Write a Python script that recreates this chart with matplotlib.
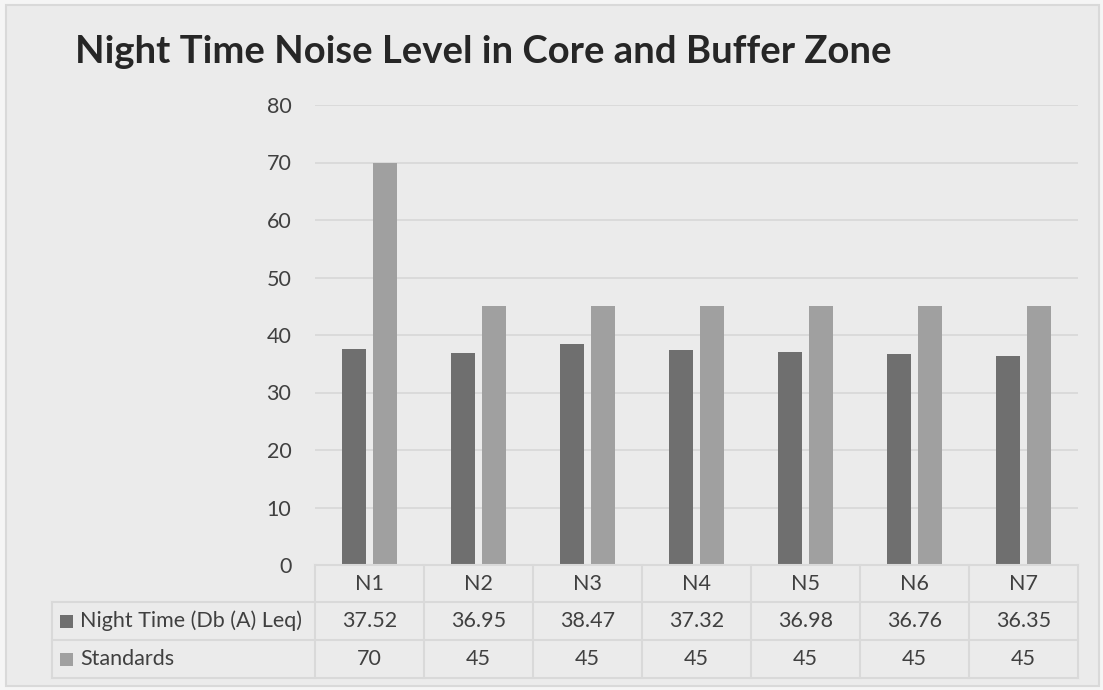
import matplotlib.pyplot as plt
from matplotlib.patches import Rectangle
from matplotlib.lines import Line2D
from matplotlib.transforms import blended_transform_factory
import numpy as np

sites = ["N1", "N2", "N3", "N4", "N5", "N6", "N7"]
night = [37.52, 36.95, 38.47, 37.32, 36.98, 36.76, 36.35]
standards = [70, 45, 45, 45, 45, 45, 45]
series_names = ["Night Time (Db (A) Leq)", "Standards"]
yticks = [0, 10, 20, 30, 40, 50, 60, 70, 80]

dark = "#6f6f6f"
light = "#a0a0a0"
grid_col = "#d9d9d9"
txt_col = "#404040"

W, H = 1103, 690
plt.rcParams["font.family"] = ["Lato", "DejaVu Sans"]
fig = plt.figure(figsize=(W / 100, H / 100), dpi=100, facecolor="#f5f5f5")


def fx(px):
    return px / W


def fy(py):
    return 1 - py / H


# chart area background with thin border
fig.patches.append(Rectangle((fx(6), fy(686)), fx(1099) - fx(6), fy(5) - fy(686),
                             transform=fig.transFigure, facecolor="#ebebeb",
                             edgecolor=grid_col, lw=1.5, zorder=-5))

fig.text(fx(483), fy(52), "Night Time Noise Level in Core and Buffer Zone",
         ha="center", va="center", fontsize=27.5, fontweight="bold", color="#262626")

ax = fig.add_axes([fx(315), fy(565), fx(1078) - fx(315), fy(105) - fy(565)])
ax.set_facecolor("none")
x = np.arange(len(sites))
bw = 0.22
off = 0.142
ax.bar(x - off, night, bw, color=dark, zorder=3)
ax.bar(x + off, standards, bw, color=light, zorder=3)
ax.set_xlim(-0.5, len(sites) - 0.5)
ax.set_ylim(0, 80)
ax.set_yticks(yticks)
ax.set_yticklabels([str(t) for t in yticks], fontsize=15.5, color=txt_col)
ax.tick_params(axis="y", length=0, pad=17)
ax.set_xticks([])
ax.grid(axis="y", color=grid_col, lw=1.3, zorder=0)
for s in ax.spines.values():
    s.set_visible(False)

# data table under the plot
tr = blended_transform_factory(ax.transAxes, fig.transFigure)
n = len(sites)
rows_y = [565, 602, 640, 678]
lw = 1.5
# horizontal lines
fig.add_artist(Line2D([0, 1], [fy(rows_y[0])] * 2, transform=tr, color=grid_col, lw=lw))
for ry in rows_y[1:]:
    fig.add_artist(Line2D([fx(52), fx(1078)], [fy(ry)] * 2, transform=fig.transFigure,
                          color=grid_col, lw=lw))
# vertical lines
for i in range(n + 1):
    fig.add_artist(Line2D([i / n, i / n], [fy(rows_y[0]), fy(rows_y[-1])], transform=tr,
                          color=grid_col, lw=lw))
fig.add_artist(Line2D([fx(52), fx(52)], [fy(rows_y[1]), fy(rows_y[-1])],
                      transform=fig.transFigure, color=grid_col, lw=lw))

fs = 15.5
for i, s in enumerate(sites):
    cx = (i + 0.5) / n
    fig.text(cx, fy((rows_y[0] + rows_y[1]) / 2), s, transform=tr, ha="center",
             va="center", fontsize=fs, color=txt_col)
    fig.text(cx, fy((rows_y[1] + rows_y[2]) / 2), f"{night[i]:.2f}", transform=tr,
             ha="center", va="center", fontsize=fs, color=txt_col)
    fig.text(cx, fy((rows_y[2] + rows_y[3]) / 2), f"{standards[i]}", transform=tr,
             ha="center", va="center", fontsize=fs, color=txt_col)

for k, (name, col) in enumerate(zip(series_names, [dark, light])):
    cy = (rows_y[k + 1] + rows_y[k + 2]) / 2
    fig.patches.append(Rectangle((fx(60), fy(cy + 6.5)), fx(13), 13 / H,
                                 transform=fig.transFigure, facecolor=col, edgecolor="none"))
    fig.text(fx(80), fy(cy), name, ha="left", va="center", fontsize=fs, color=txt_col)

fig.savefig("out.png", dpi=100, facecolor=fig.get_facecolor())
